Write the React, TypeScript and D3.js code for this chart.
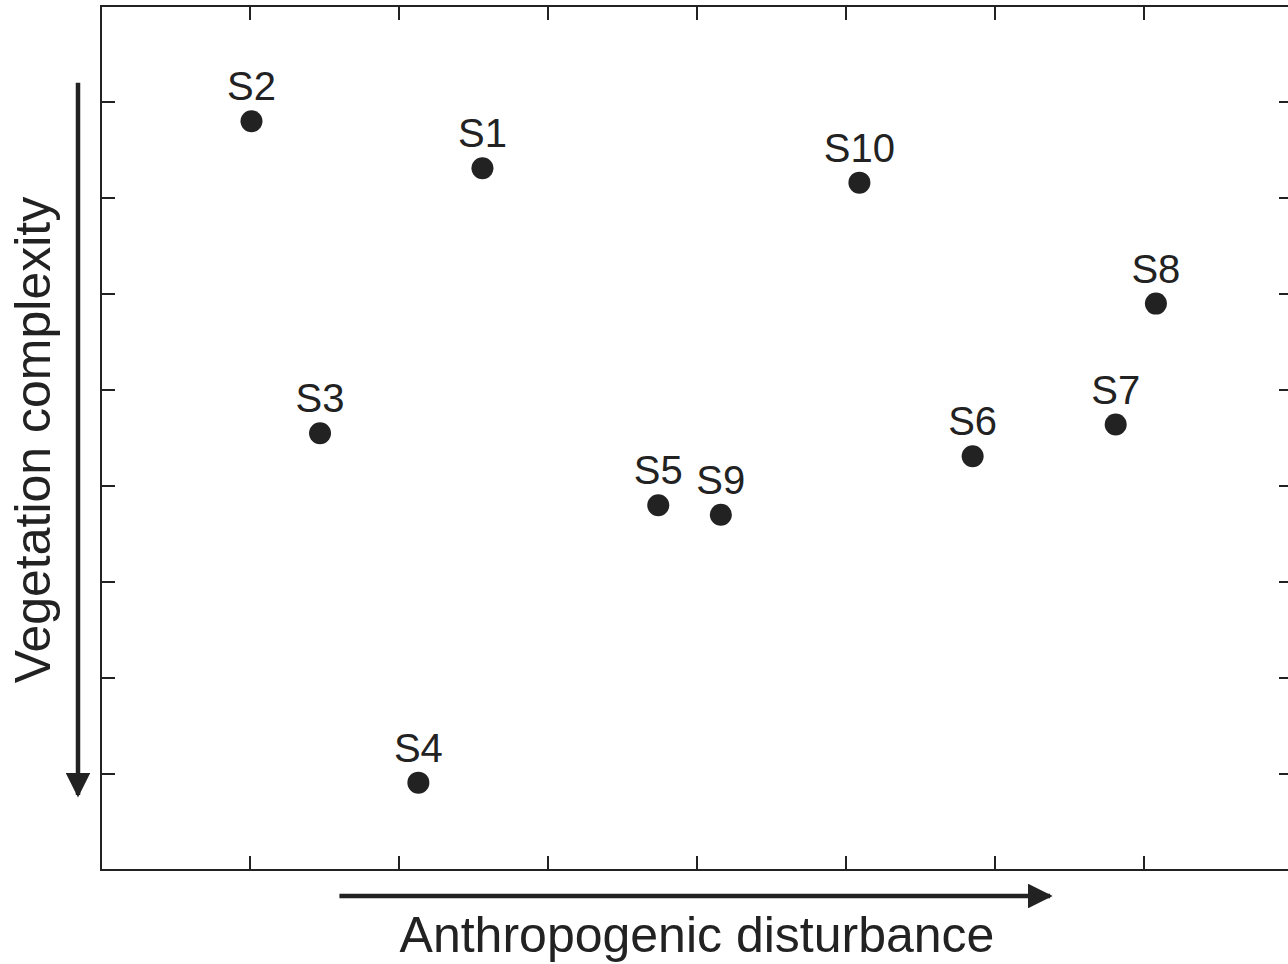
import React from 'react'
import * as d3 from 'd3'

// site scores
const sites = ['S1', 'S2', 'S3', 'S4', 'S5', 'S6', 'S7', 'S8', 'S9', 'S10']
const disturbance = [2.56, 1.01, 1.47, 2.13, 3.74, 5.85, 6.81, 7.08, 4.16, 5.09]
const complexity = [7.31, 7.8, 4.55, 0.91, 3.8, 4.31, 4.64, 5.9, 3.7, 7.16]
const xTicks = [1, 2, 3, 4, 5, 6, 7]
const yTicks = [1, 2, 3, 4, 5, 6, 7, 8]

const W = 1288
const H = 964
const ink = '#222'
const font = '"Liberation Sans", Arial, sans-serif'

const x = d3.scaleLinear().domain([0, 8]).range([101, 1293])
const y = d3.scaleLinear().domain([0, 9]).range([870, 6])

const App = () => {
  const tick = 14
  const [x0, x1] = x.range()
  const [y0, y1] = y.range()
  return (
    <svg
      width={W}
      height={H}
      style={{ position: 'absolute', left: 0, top: 0, background: '#fff' }}
    >
      <defs>
        <marker
          id="head"
          viewBox="0 0 10 10"
          refX="9"
          refY="5"
          markerWidth="5.5"
          markerHeight="5.5"
          markerUnits="strokeWidth"
          orient="auto"
        >
          <path d="M0,0 L10,5 L0,10 Z" fill={ink} />
        </marker>
      </defs>

      {/* frame */}
      <rect
        x={x0}
        y={y1}
        width={x1 - x0}
        height={y0 - y1}
        fill="none"
        stroke={ink}
        strokeWidth={2}
      />

      {xTicks.map(t => (
        <g key={'x' + t} stroke={ink} strokeWidth={2}>
          <line x1={x(t)} x2={x(t)} y1={y0} y2={y0 - tick} />
          <line x1={x(t)} x2={x(t)} y1={y1} y2={y1 + tick} />
        </g>
      ))}
      {yTicks.map(t => (
        <g key={'y' + t} stroke={ink} strokeWidth={2}>
          <line x1={x0} x2={x0 + tick} y1={y(t)} y2={y(t)} />
          <line x1={x1} x2={x1 - tick} y1={y(t)} y2={y(t)} />
        </g>
      ))}

      {/* direction arrows */}
      <line
        x1={x(1.6)}
        x2={x(6.37)}
        y1={896}
        y2={896}
        stroke={ink}
        strokeWidth={4.5}
        markerEnd="url(#head)"
      />
      <line
        x1={78}
        x2={78}
        y1={y(8.2)}
        y2={y(0.78)}
        stroke={ink}
        strokeWidth={4.5}
        markerEnd="url(#head)"
      />

      <text
        x={x(4)}
        y={952}
        textAnchor="middle"
        fontFamily={font}
        fontSize={50}
        fill={ink}
      >
        Anthropogenic disturbance
      </text>
      <text
        transform={`translate(50, ${y(4.5) + 2}) rotate(-90)`}
        textAnchor="middle"
        fontFamily={font}
        fontSize={50}
        fill={ink}
      >
        Vegetation complexity
      </text>

      {sites.map((s, i) => (
        <g key={s}>
          <circle
            cx={x(disturbance[i])}
            cy={y(complexity[i])}
            r={11}
            fill={ink}
          />
          <text
            x={x(disturbance[i])}
            y={y(complexity[i]) - 21}
            textAnchor="middle"
            fontFamily={font}
            fontSize={40}
            fill={ink}
          >
            {s}
          </text>
        </g>
      ))}
    </svg>
  )
}

export default App
